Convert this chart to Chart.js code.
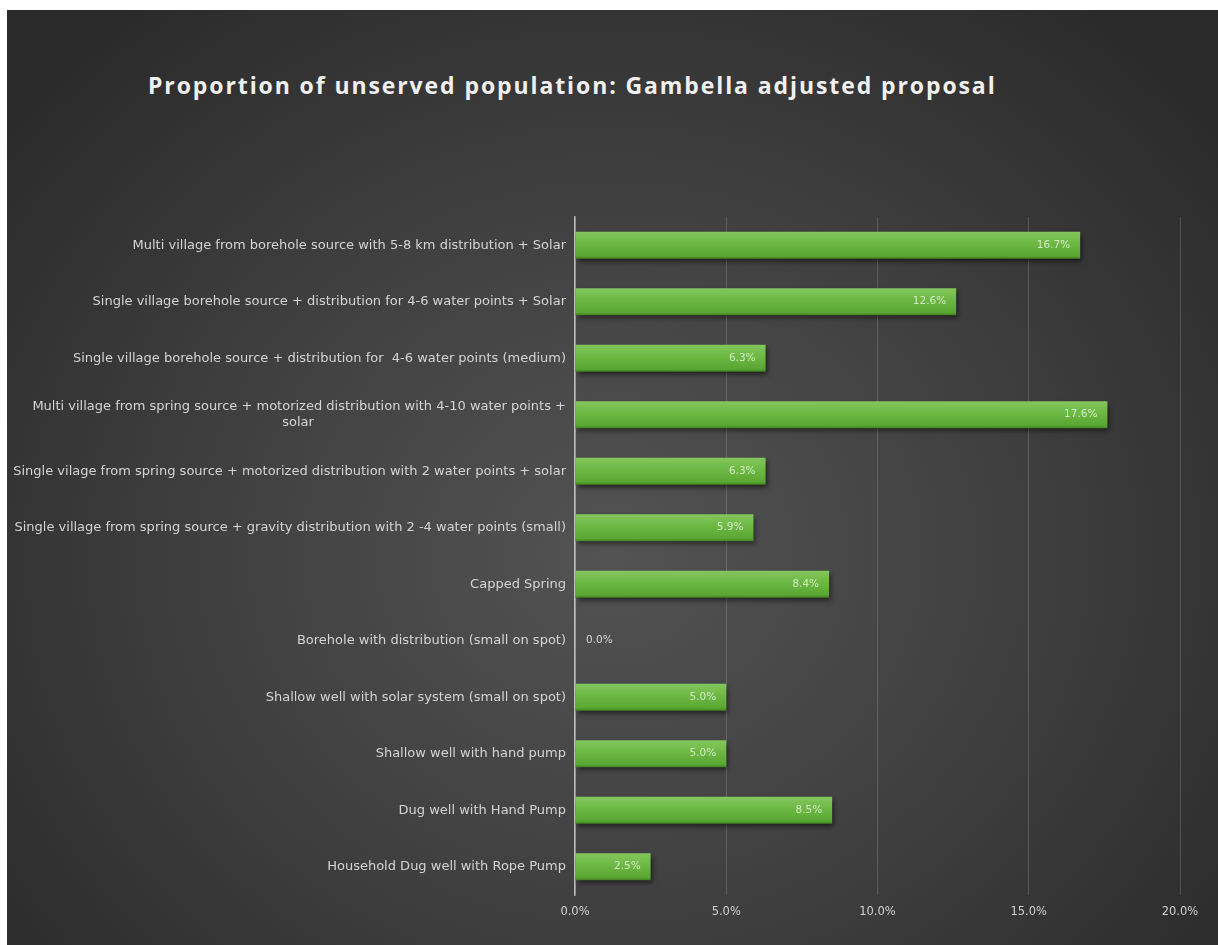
<!DOCTYPE html>
<html>
<head>
<meta charset="utf-8">
<title>Proportion of unserved population</title>
<script src="https://cdn.jsdelivr.net/npm/chart.js@4.4.1/dist/chart.umd.min.js"></script>
<style>
  html, body { margin: 0; padding: 0; background: #fff; }
  #wrap {
    position: absolute; left: 7px; top: 10px; width: 1211px; height: 935px;
    background: radial-gradient(ellipse 65% 75% at 50% 58%, #535353 0%, #404040 50%, #2a2a2a 100%);
  }
  #chartTitle {
    position: absolute; left: 141px; top: 60px; margin: 0;
    font: bold 23px 'Open Sans', sans-serif; line-height: 30px;
    letter-spacing: 1.9px; color: #f0f0f0; white-space: nowrap;
  }
  #chart { position: absolute; left: 0; top: 0; }
</style>
</head>
<body>
<div id="wrap">
  <h1 id="chartTitle">Proportion of unserved population: Gambella adjusted proposal</h1>
  <canvas id="chart" width="1211" height="935"></canvas>
</div>
<script>
const labelFont = "'DejaVu Sans', sans-serif";
const catFontSize = 13;

// pad a second label line so it sits centred under the first one
// (the axis draws its lines right-aligned)
function centredUnder(first, second) {
  const m = document.createElement('canvas').getContext('2d');
  m.font = catFontSize + 'px ' + labelFont;
  const gap = (m.measureText(first).width - m.measureText(second).width) / 2;
  const n = Math.max(0, Math.round(gap / m.measureText(' ').width));
  return [first, second + ' '.repeat(n)];
}

// Water supply options, top to bottom
const categories = [
  'Multi village from borehole source with 5-8 km distribution + Solar',
  'Single village borehole source + distribution for 4-6 water points + Solar',
  'Single village borehole source + distribution for  4-6 water points (medium)',
  centredUnder('Multi village from spring source + motorized distribution with 4-10 water points +', 'solar'),
  'Single vilage from spring source + motorized distribution with 2 water points + solar',
  'Single village from spring source + gravity distribution with 2 -4 water points (small)',
  'Capped Spring',
  'Borehole with distribution (small on spot)',
  'Shallow well with solar system (small on spot)',
  'Shallow well with hand pump',
  'Dug well with Hand Pump',
  'Household Dug well with Rope Pump'
];

// Share of unserved population (%)
const shares = [16.7, 12.6, 6.3, 17.6, 6.3, 5.9, 8.4, 0.0, 5.0, 5.0, 8.5, 2.5];

const axisMin = 0;
const axisMax = 20;
const axisStep = 5;

const catPct = 0.48;

// vertical green gradient per bar, built from the category scale
function barFill(ctx) {
  const chart = ctx.chart;
  const y = chart.scales.y;
  if (!chart.chartArea || !y || ctx.dataIndex === undefined) return '#6ab842';
  const c = y.getPixelForValue(ctx.dataIndex);
  const half = (y.height / categories.length) * catPct / 2;
  const g = chart.ctx.createLinearGradient(0, c - half, 0, c + half);
  g.addColorStop(0, '#84c75e');
  g.addColorStop(0.45, '#6cb843');
  g.addColorStop(0.9, '#5aa632');
  g.addColorStop(1, '#3f7d22');
  return g;
}

// soft drop shadow under the bars
const barShadow = {
  id: 'barShadow',
  beforeDatasetsDraw(chart) {
    const c = chart.ctx;
    c.save();
    c.shadowColor = 'rgba(0,0,0,0.55)';
    c.shadowBlur = 5;
    c.shadowOffsetX = 2;
    c.shadowOffsetY = 3;
  },
  afterDatasetsDraw(chart) {
    chart.ctx.restore();
  }
};

// percentage at the end of each bar
const valueLabels = {
  id: 'valueLabels',
  afterDatasetsDraw(chart) {
    const c = chart.ctx;
    const meta = chart.getDatasetMeta(0);
    c.save();
    c.font = '10.5px ' + labelFont;
    c.textBaseline = 'middle';
    meta.data.forEach((bar, i) => {
      const v = shares[i];
      const txt = v.toFixed(1) + '%';
      if (v > 1) {
        c.textAlign = 'right';
        c.fillStyle = 'rgba(236,246,228,0.8)';
        c.fillText(txt, bar.x - 10, bar.y);
      } else {
        c.textAlign = 'left';
        c.fillStyle = '#d6d6d6';
        c.fillText(txt, bar.x + 11, bar.y);
      }
    });
    c.restore();
  }
};

new Chart(document.getElementById('chart'), {
  type: 'bar',
  data: {
    labels: categories,
    datasets: [{
      data: shares,
      backgroundColor: barFill,
      borderWidth: 0,
      barPercentage: 1,
      categoryPercentage: catPct
    }]
  },
  options: {
    indexAxis: 'y',
    responsive: false,
    animation: false,
    layout: { padding: { top: 207, right: 38, bottom: 0, left: 0 } },
    plugins: {
      legend: { display: false },
      tooltip: { enabled: false },
      title: { display: false }
    },
    scales: {
      x: {
        min: axisMin,
        max: axisMax,
        ticks: {
          stepSize: axisStep,
          padding: 10,
          color: '#d0d0d0',
          font: { family: labelFont, size: 11.5 },
          callback: v => v.toFixed(1) + '%'
        },
        grid: { color: 'rgba(255,255,255,0.16)', lineWidth: 1, drawTicks: false },
        border: { display: false },
        afterFit: s => { s.height = 50; }
      },
      y: {
        ticks: {
          padding: 9,
          color: '#d4d4d4',
          font: { family: labelFont, size: catFontSize, lineHeight: 1.25 }
        },
        grid: { display: false, drawTicks: false },
        border: { display: true, color: 'rgba(225,225,225,0.75)', width: 1.5 },
        afterFit: s => { s.width = 568; }
      }
    }
  },
  plugins: [barShadow, valueLabels]
});
</script>
</body>
</html>
